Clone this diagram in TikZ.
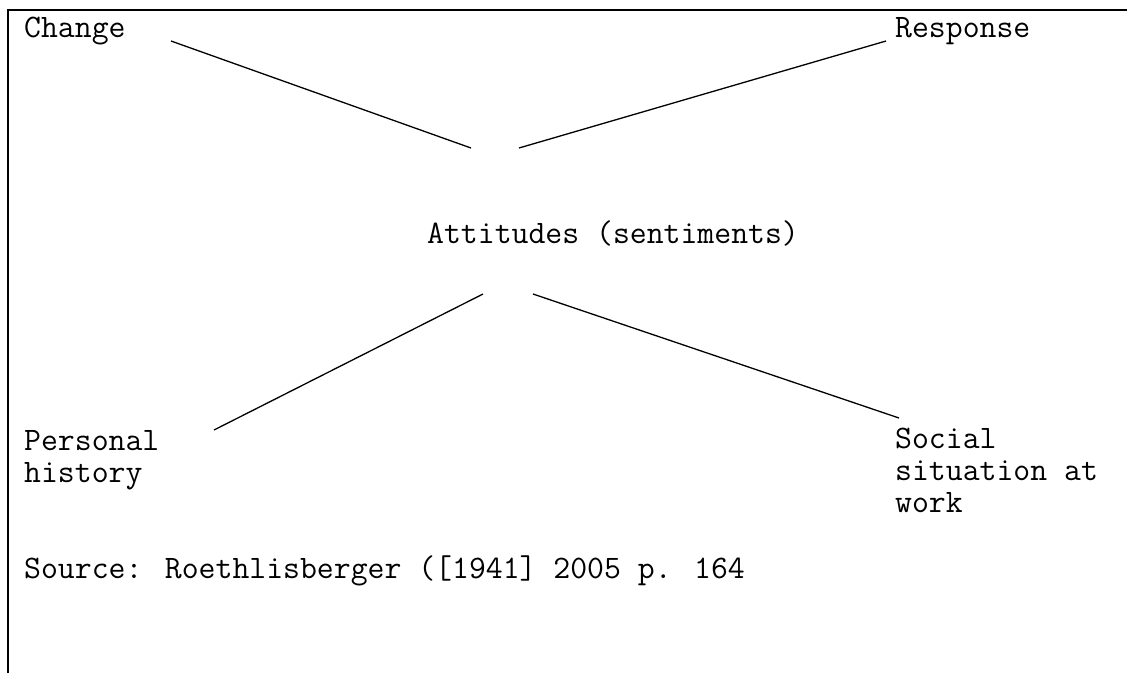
\documentclass[tikz,border=0pt]{standalone}
\usepackage{fontspec}
\begin{document}
\begin{tikzpicture}[x=1pt,y=-1pt,
  lbl/.style={anchor=base west,inner sep=0pt,align=left,font=\ttfamily\fontsize{32.8}{32}\selectfont},
  conn/.style={line width=1.3pt,black},
  frame/.style={line width=2.2pt,black}]
\useasboundingbox (0,0) rectangle (1127,673);
\draw[frame] (8,673) -- (8,10) -- (1127,10);
\node[lbl] (change) at (24,37) {Change};
\node[lbl] (response) at (895,37) {Response};
\node[lbl] (att) at (427,243) {Attitudes (sentiments)};
\node[lbl] (personal) at (24,482) {Personal\\history};
\node[lbl] (social) at (895,512) {Social\\situation at\\work};
\node[lbl] (source) at (24,578) {Source: Roethlisberger ([1941] 2005 p. 164};
\coordinate (c1) at (171,41);
\coordinate (c2) at (471,148);
\coordinate (r1) at (519,148);
\coordinate (r2) at (886,41);
\coordinate (p1) at (483,294);
\coordinate (p2) at (214,430);
\coordinate (s1) at (533,294);
\coordinate (s2) at (899,418);
\draw[conn] (c1) -- (c2);
\draw[conn] (r1) -- (r2);
\draw[conn] (p1) -- (p2);
\draw[conn] (s1) -- (s2);
\end{tikzpicture}
\end{document}
